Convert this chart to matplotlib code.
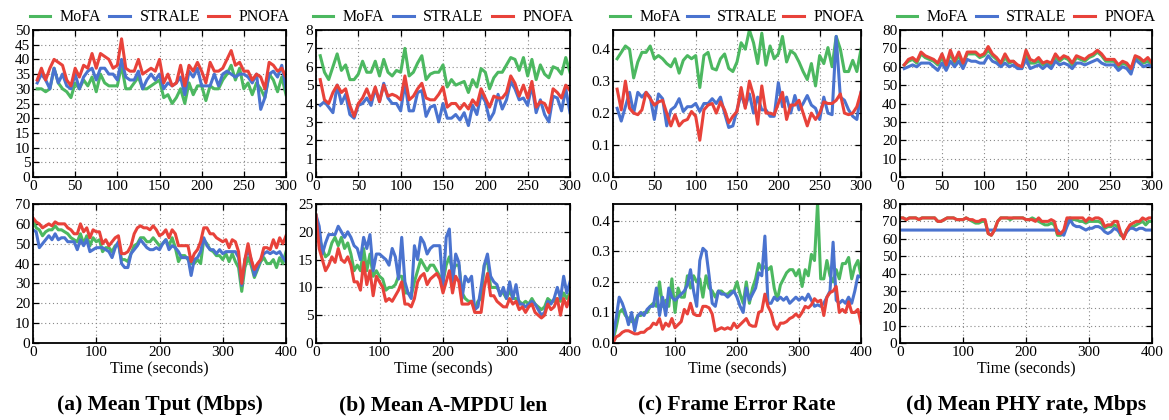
import numpy as np
import matplotlib.pyplot as plt
from matplotlib.ticker import FormatStrFormatter

plt.rcParams['font.family'] = ['Liberation Serif', 'DejaVu Serif']

# time axes
t_top = np.arange(5, 301, 5)
t_bot = np.arange(0, 401, 5)

names = ["MoFA", "STRALE", "PNOFA"]
colors = ["#4cb860", "#4a73cf", "#e8423a"]

# ---- (a) Mean Tput ----
tput_top_mofa = [30, 30, 29, 30, 37, 32, 30, 29, 27, 32, 30, 33, 31, 34, 29, 35, 32, 31, 31, 31,
                 38, 30, 30, 32, 34, 30, 30, 31, 32, 33, 27, 28, 25, 27, 30, 25, 32, 28, 31, 31,
                 26, 31, 30, 30, 33, 35, 38, 33, 37, 30, 32, 28, 32, 30, 27, 35, 33, 29, 34, 28]
tput_top_strale = [32, 35, 33, 30, 37, 32, 35, 31, 30, 35, 30, 34, 36, 37, 33, 37, 37, 35, 35, 33,
                   40, 34, 33, 33, 36, 30, 33, 35, 33, 35, 30, 32, 31, 32, 34, 28, 36, 34, 37, 31,
                   31, 31, 35, 31, 35, 36, 35, 34, 35, 35, 34, 32, 35, 23, 27, 35, 36, 34, 38, 30]
tput_top_pnofa = [33, 37, 33, 37, 40, 39, 38, 33, 31, 37, 34, 38, 37, 42, 37, 42, 41, 40, 37, 38,
                  47, 37, 36, 36, 40, 35, 36, 37, 36, 40, 32, 35, 31, 32, 38, 31, 38, 36, 39, 36,
                  32, 39, 36, 36, 37, 40, 43, 38, 39, 36, 36, 33, 35, 34, 30, 39, 38, 36, 37, 34]
tput_bot_mofa = [62, 58, 57, 54, 56, 57, 57, 59, 57, 57, 56, 55, 53, 52, 51, 55, 50, 54, 49, 53,
                 51, 52, 46, 48, 48, 46, 49, 50, 42, 42, 41, 45, 49, 50, 53, 53, 51, 51, 53, 51,
                 49, 50, 52, 49, 53, 48, 41, 44, 44, 42, 40, 40, 42, 40, 52, 50, 47, 46, 44, 44,
                 42, 45, 41, 45, 41, 38, 26, 38, 43, 39, 33, 37, 41, 43, 40, 40, 42, 38, 43, 40, 46]
tput_bot_strale = [57, 56, 48, 50, 52, 54, 52, 55, 52, 53, 53, 51, 51, 51, 47, 52, 49, 52, 46, 47,
                   48, 48, 48, 47, 46, 43, 48, 51, 40, 38, 38, 45, 47, 49, 52, 50, 48, 47, 47, 48,
                   47, 50, 52, 47, 49, 48, 46, 43, 43, 43, 34, 42, 43, 46, 53, 49, 47, 47, 45, 47,
                   45, 46, 46, 46, 46, 43, 29, 42, 47, 42, 34, 38, 42, 45, 46, 45, 46, 45, 46, 43, 41]
tput_bot_pnofa = [63, 61, 60, 58, 59, 60, 59, 61, 60, 60, 60, 58, 57, 55, 55, 60, 56, 58, 53, 57,
                  56, 56, 50, 52, 49, 51, 53, 54, 45, 45, 46, 49, 55, 58, 59, 58, 58, 57, 59, 57,
                  54, 55, 57, 53, 57, 55, 49, 49, 49, 49, 41, 45, 47, 51, 58, 58, 55, 55, 53, 52,
                  51, 52, 48, 52, 51, 46, 30, 42, 50, 42, 37, 40, 42, 48, 48, 47, 52, 48, 53, 50, 54]

# ---- (b) Mean A-MPDU len ----
ampdu_top_mofa = [6.6, 5.7, 5.3, 6.0, 6.7, 5.8, 6.1, 5.3, 5.3, 5.6, 6.3, 5.7, 5.7, 6.3, 5.5, 6.4, 5.7, 5.5, 5.8, 5.7,
                  7.0, 5.5, 5.7, 6.2, 6.6, 5.3, 5.6, 5.7, 5.7, 6.1, 4.9, 5.3, 5.0, 5.1, 5.2, 4.6, 5.3, 4.9, 5.9, 5.7,
                  4.8, 5.4, 5.7, 5.7, 6.1, 6.5, 6.4, 5.8, 6.5, 5.5, 6.4, 5.3, 6.1, 5.6, 5.4, 6.0, 5.9, 5.6, 6.5, 5.7]
ampdu_top_strale = [3.9, 4.1, 3.8, 3.5, 5.0, 4.0, 4.5, 3.4, 3.2, 3.9, 4.0, 4.3, 3.9, 4.8, 4.1, 5.1, 4.3, 4.0, 4.0, 3.6,
                    5.1, 3.6, 3.6, 4.6, 4.7, 3.3, 3.8, 3.9, 3.0, 4.0, 3.2, 3.2, 3.4, 3.1, 3.5, 2.8, 3.9, 3.4, 4.5, 4.1,
                    3.1, 3.5, 4.5, 3.7, 4.2, 5.2, 4.8, 4.2, 4.3, 3.9, 5.0, 3.5, 4.2, 3.4, 3.0, 4.4, 4.3, 3.6, 4.8, 3.5]
ampdu_top_pnofa = [5.3, 4.2, 4.0, 4.6, 5.0, 4.6, 4.8, 3.9, 3.3, 4.0, 4.3, 4.8, 4.2, 4.9, 4.1, 5.0, 4.4, 4.5, 4.4, 4.2,
                   5.5, 4.2, 4.4, 4.8, 5.1, 4.3, 4.2, 4.2, 4.5, 4.9, 3.8, 4.0, 4.0, 3.7, 4.0, 3.7, 4.2, 3.9, 4.8, 4.3,
                   3.8, 4.4, 4.3, 4.3, 4.6, 5.5, 5.1, 4.4, 5.0, 4.3, 5.2, 3.8, 4.1, 4.0, 3.5, 4.8, 4.6, 4.3, 5.0, 4.7]
ampdu_bot_mofa = [23, 19, 17, 15.5, 16, 18, 19, 17.5, 19, 17, 18, 16, 13, 14, 13, 17, 13, 16, 12, 13,
                  12, 11.5, 9.5, 10, 10, 10.5, 12, 12, 9, 9, 8.5, 11, 13, 15, 14, 13, 14, 14, 13, 12,
                  11, 14, 15.5, 13, 14, 14, 9, 8, 7.5, 7.5, 6, 7.5, 8, 14, 15, 10, 10, 10, 9, 9,
                  8, 9.5, 8, 8, 7.5, 7, 7.5, 7, 8, 7, 6.5, 6, 6.5, 8, 7.5, 7.5, 8, 7.5, 9, 8, 9]
ampdu_bot_strale = [23, 21, 16, 18, 19.5, 19.5, 19.5, 21, 20, 19, 20, 19, 17.5, 17, 15, 19, 17, 19.5, 13, 16,
                    16, 15.5, 15, 14, 17, 15.5, 11.5, 19, 11, 9, 8, 17.5, 15, 19, 18, 16, 17, 17.5, 17.5, 17.5,
                    10, 19, 20.5, 10.5, 16, 14.5, 8, 12, 11, 12, 6, 6.5, 10, 14, 16, 12, 11, 10.5, 8.5, 10,
                    8, 11, 8, 10.5, 7, 7, 6.5, 7, 7.5, 7, 6, 5, 5.5, 7.5, 7, 8, 10, 8, 12, 9, 11]
ampdu_bot_pnofa = [23, 17, 15, 13, 14, 15.5, 14.5, 17, 15, 14.5, 15.5, 14, 11, 11, 9.5, 14.5, 10.5, 13, 8.5, 12,
                   11, 10, 7.5, 8, 7.5, 8.5, 9.5, 11, 7, 7, 6.5, 8, 11, 12, 12.5, 10.5, 11.5, 12, 12.5, 11.5,
                   9, 11, 13, 9, 12, 11, 7, 7, 7, 7.5, 5.5, 5.5, 5.5, 10, 12.5, 8.5, 8.5, 7.5, 7, 6.5,
                   6.5, 8, 7, 7.5, 6, 6.5, 5.5, 6.5, 7, 5.5, 5, 4.5, 5, 7, 6, 6.5, 8, 5, 8, 6.5, 8.5]

# ---- (c) Frame Error Rate ----
fer_top_mofa = [0.37, 0.39, 0.41, 0.40, 0.31, 0.36, 0.39, 0.39, 0.41, 0.37, 0.38, 0.37, 0.355, 0.345, 0.37,
                0.325, 0.365, 0.38, 0.37, 0.38, 0.28, 0.38, 0.39, 0.34, 0.335, 0.37, 0.385, 0.34, 0.33, 0.36,
                0.42, 0.40, 0.46, 0.42, 0.355, 0.45, 0.35, 0.41, 0.37, 0.385, 0.44, 0.36, 0.395, 0.385, 0.36,
                0.33, 0.305, 0.355, 0.285, 0.38, 0.355, 0.405, 0.345, 0.44, 0.40, 0.33, 0.33, 0.365, 0.33, 0.40]
fer_top_strale = [0.215, 0.175, 0.22, 0.265, 0.20, 0.265, 0.25, 0.265, 0.25, 0.18, 0.26, 0.245, 0.16, 0.21, 0.22,
                  0.245, 0.205, 0.22, 0.22, 0.23, 0.205, 0.23, 0.23, 0.245, 0.23, 0.25, 0.20, 0.155, 0.16, 0.21,
                  0.26, 0.22, 0.26, 0.20, 0.25, 0.21, 0.21, 0.19, 0.19, 0.295, 0.22, 0.25, 0.20, 0.255, 0.21,
                  0.23, 0.255, 0.225, 0.215, 0.18, 0.25, 0.20, 0.195, 0.44, 0.25, 0.24, 0.21, 0.19, 0.18, 0.265]
fer_top_pnofa = [0.275, 0.21, 0.30, 0.215, 0.20, 0.195, 0.21, 0.265, 0.245, 0.225, 0.235, 0.24, 0.20, 0.16, 0.195,
                 0.16, 0.175, 0.18, 0.205, 0.19, 0.115, 0.21, 0.225, 0.23, 0.20, 0.235, 0.21, 0.17, 0.19, 0.205,
                 0.28, 0.215, 0.30, 0.255, 0.165, 0.285, 0.20, 0.20, 0.195, 0.23, 0.265, 0.18, 0.225, 0.225, 0.24,
                 0.20, 0.16, 0.20, 0.18, 0.20, 0.235, 0.23, 0.23, 0.24, 0.26, 0.20, 0.195, 0.20, 0.22, 0.265]
fer_bot_mofa = [0.01, 0.05, 0.10, 0.11, 0.09, 0.08, 0.07, 0.07, 0.09, 0.09, 0.10, 0.10, 0.12, 0.13, 0.12,
                0.20, 0.12, 0.14, 0.12, 0.21, 0.10, 0.18, 0.15, 0.15, 0.22, 0.18, 0.22, 0.20, 0.21, 0.15,
                0.22, 0.18, 0.17, 0.15, 0.17, 0.17, 0.16, 0.16, 0.17, 0.17, 0.20, 0.16, 0.13, 0.20, 0.13,
                0.18, 0.21, 0.26, 0.24, 0.25, 0.24, 0.25, 0.18, 0.14, 0.19, 0.21, 0.23, 0.24, 0.24, 0.22,
                0.24, 0.185, 0.24, 0.22, 0.29, 0.27, 0.46, 0.21, 0.21, 0.27, 0.22, 0.20, 0.24, 0.21, 0.26,
                0.26, 0.28, 0.21, 0.25, 0.27, 0.22]
fer_bot_strale = [0.02, 0.08, 0.15, 0.13, 0.10, 0.06, 0.10, 0.04, 0.09, 0.10, 0.09, 0.11, 0.12, 0.12, 0.18,
                  0.09, 0.15, 0.09, 0.18, 0.15, 0.14, 0.15, 0.16, 0.17, 0.19, 0.24, 0.17, 0.12, 0.27, 0.31,
                  0.30, 0.22, 0.13, 0.12, 0.17, 0.16, 0.16, 0.15, 0.16, 0.17, 0.15, 0.12, 0.10, 0.18, 0.14,
                  0.16, 0.18, 0.23, 0.22, 0.35, 0.13, 0.13, 0.15, 0.14, 0.15, 0.14, 0.15, 0.13, 0.14, 0.15,
                  0.14, 0.15, 0.14, 0.16, 0.14, 0.12, 0.125, 0.12, 0.13, 0.15, 0.17, 0.33, 0.14, 0.13, 0.14,
                  0.13, 0.15, 0.13, 0.17, 0.22, 0.215]
fer_bot_pnofa = [0.0, 0.02, 0.025, 0.035, 0.04, 0.04, 0.035, 0.03, 0.03, 0.035, 0.035, 0.045, 0.05, 0.065, 0.06,
                 0.08, 0.045, 0.065, 0.055, 0.08, 0.05, 0.06, 0.07, 0.11, 0.095, 0.13, 0.095, 0.09, 0.09, 0.12,
                 0.12, 0.115, 0.095, 0.04, 0.045, 0.05, 0.045, 0.05, 0.045, 0.065, 0.05, 0.06, 0.07, 0.08, 0.06,
                 0.055, 0.055, 0.10, 0.105, 0.16, 0.12, 0.10, 0.06, 0.045, 0.065, 0.065, 0.07, 0.08, 0.085, 0.095,
                 0.085, 0.10, 0.12, 0.115, 0.125, 0.145, 0.135, 0.14, 0.09, 0.15, 0.165, 0.17, 0.185, 0.10, 0.11,
                 0.10, 0.135, 0.10, 0.10, 0.11, 0.065]

# ---- (d) Mean PHY rate ----
phy_top_mofa = [61, 63, 64, 62, 67, 65, 64, 63, 61, 65, 60, 67, 62, 66, 61, 67, 67, 67, 65, 66,
                69, 66, 64, 61, 65, 62, 63, 60, 59, 66, 62, 62, 63, 61, 62, 61, 65, 63, 65, 64,
                61, 65, 64, 63, 65, 66, 68, 66, 63, 63, 63, 60, 62, 61, 58, 65, 64, 62, 63, 61]
phy_top_strale = [59, 60, 61, 60, 62, 62, 62, 60, 58, 62, 58, 63, 60, 63, 59, 64, 63, 63, 62, 62,
                  66, 63, 62, 60, 62, 60, 61, 59, 59, 64, 59, 60, 61, 59, 61, 59, 63, 61, 62, 61,
                  59, 62, 62, 61, 62, 63, 64, 62, 61, 61, 61, 58, 60, 59, 56, 64, 62, 60, 61, 60]
phy_top_pnofa = [61, 64, 65, 63, 68, 66, 65, 64, 62, 67, 61, 69, 63, 68, 62, 68, 68, 68, 66, 67,
                 71, 67, 65, 62, 67, 63, 63, 61, 60, 69, 64, 63, 65, 62, 63, 62, 67, 64, 66, 65,
                 62, 66, 65, 64, 66, 67, 69, 67, 64, 64, 64, 61, 63, 62, 59, 66, 65, 63, 65, 62]
phy_bot_mofa = [72, 72, 71, 72, 72, 72, 71, 72, 72, 72, 72, 72, 70, 70, 71, 72, 72, 72, 71, 71,
                71, 72, 71, 70, 69, 69, 70, 70, 63, 62, 65, 70, 72, 72, 72, 71, 72, 72, 72, 72,
                71, 71, 72, 71, 70, 69, 68, 68, 69, 68, 62, 62, 64, 70, 72, 71, 71, 70, 70, 69,
                70, 70, 70, 70, 69, 66, 67, 67, 68, 67, 62, 61, 65, 67, 67, 68, 69, 70, 68, 70, 70]
phy_bot_strale = [65, 65, 65, 65, 65, 65, 65, 65, 65, 65, 65, 65, 65, 65, 65, 65, 65, 65, 65, 65,
                  65, 65, 65, 65, 65, 65, 65, 65, 65, 65, 65, 65, 65, 65, 65, 65, 65, 65, 65, 65,
                  65, 65, 65, 65, 65, 65, 65, 65, 65, 65, 65, 63, 62, 67, 71, 68, 67, 67, 66, 65,
                  66, 66, 67, 67, 66, 64, 63, 64, 66, 65, 63, 61, 64, 66, 66, 65, 66, 66, 65, 65, 65]
phy_bot_pnofa = [72, 72, 71, 72, 72, 72, 71, 72, 72, 72, 72, 72, 70, 70, 71, 72, 72, 72, 71, 71,
                 71, 72, 71, 71, 70, 70, 71, 71, 63, 62, 65, 70, 72, 72, 72, 72, 72, 72, 72, 72,
                 71, 71, 71, 70, 72, 70, 70, 70, 71, 70, 63, 63, 65, 72, 72, 72, 72, 72, 72, 70,
                 72, 71, 72, 72, 71, 67, 68, 68, 70, 70, 64, 60, 65, 68, 69, 70, 70, 72, 71, 72, 72]

captions = ["(a) Mean Tput (Mbps)", "(b) Mean A-MPDU len",
            "(c) Frame Error Rate", "(d) Mean PHY rate, Mbps"]

panels = [
    # (top series, top ylim, top yticks, bottom series, bottom ylim, bottom yticks, fmt)
    ((tput_top_mofa, tput_top_strale, tput_top_pnofa), 50, np.arange(0, 51, 5),
     (tput_bot_mofa, tput_bot_strale, tput_bot_pnofa), 70, np.arange(0, 71, 10), None),
    ((ampdu_top_mofa, ampdu_top_strale, ampdu_top_pnofa), 8, np.arange(0, 9, 1),
     (ampdu_bot_mofa, ampdu_bot_strale, ampdu_bot_pnofa), 25, np.arange(0, 26, 5), None),
    ((fer_top_mofa, fer_top_strale, fer_top_pnofa), 0.46, np.arange(0, 0.41, 0.1),
     (fer_bot_mofa, fer_bot_strale, fer_bot_pnofa), 0.455, np.arange(0, 0.41, 0.1), "%.1f"),
    ((phy_top_mofa, phy_top_strale, phy_top_pnofa), 80, np.arange(0, 81, 10),
     (phy_bot_mofa, phy_bot_strale, phy_bot_pnofa), 80, np.arange(0, 81, 10), None),
]

W, H = 1169, 420
fig = plt.figure(figsize=(W / 100, H / 100), dpi=100)

# pixel boxes (left, right) per column; (top, bottom) per row
cols = [(33, 286), (316, 570), (613, 861), (900, 1152)]
rows = [(30, 177), (204, 343)]


def box(c, r):
    l, rr = cols[c]
    t, b = rows[r]
    return [l / W, 1 - b / H, (rr - l) / W, (b - t) / H]


def style(ax, ymax, yticks, xmax, xticks, fmt):
    ax.set_xlim(0, xmax)
    ax.set_ylim(0, ymax)
    ax.set_xticks(xticks)
    ax.set_yticks(yticks)
    if fmt:
        ax.yaxis.set_major_formatter(FormatStrFormatter(fmt))
    ax.tick_params(direction="in", top=True, right=True, length=4, width=0.9,
                   labelsize=11, pad=2)
    ax.grid(True, linestyle=(0, (1, 2.5)), color="#888888", linewidth=0.8)
    for s in ax.spines.values():
        s.set_linewidth(1.3)


for c, (top, ymax_t, yt_t, bot, ymax_b, yt_b, fmt) in enumerate(panels):
    ax1 = fig.add_axes(box(c, 0))
    for ys, n, col in zip(top, names, colors):
        ax1.plot(t_top, ys, color=col, lw=2.2, label=n)
    style(ax1, ymax_t, yt_t, 300, np.arange(0, 301, 50), fmt)
    ax1.legend(loc="lower left", bbox_to_anchor=(-0.02, 1.02, 1.04, 0.1), ncol=3,
               mode="expand", frameon=False, fontsize=11.5, handlelength=1.3,
               handletextpad=0.6, borderaxespad=0, borderpad=0.1)

    ax2 = fig.add_axes(box(c, 1))
    for ys, n, col in zip(bot, names, colors):
        ax2.plot(t_bot, ys, color=col, lw=2.2, label=n)
    style(ax2, ymax_b, yt_b, 400, np.arange(0, 401, 100), fmt)
    ax2.set_xlabel("Time (seconds)", fontsize=11.5, labelpad=1)

    fig.text((cols[c][0] + cols[c][1]) / 2 / W, 1 - 405 / H, captions[c],
             ha="center", va="center", fontsize=15.5, fontweight="bold")

fig.savefig("out.png", dpi=100)
